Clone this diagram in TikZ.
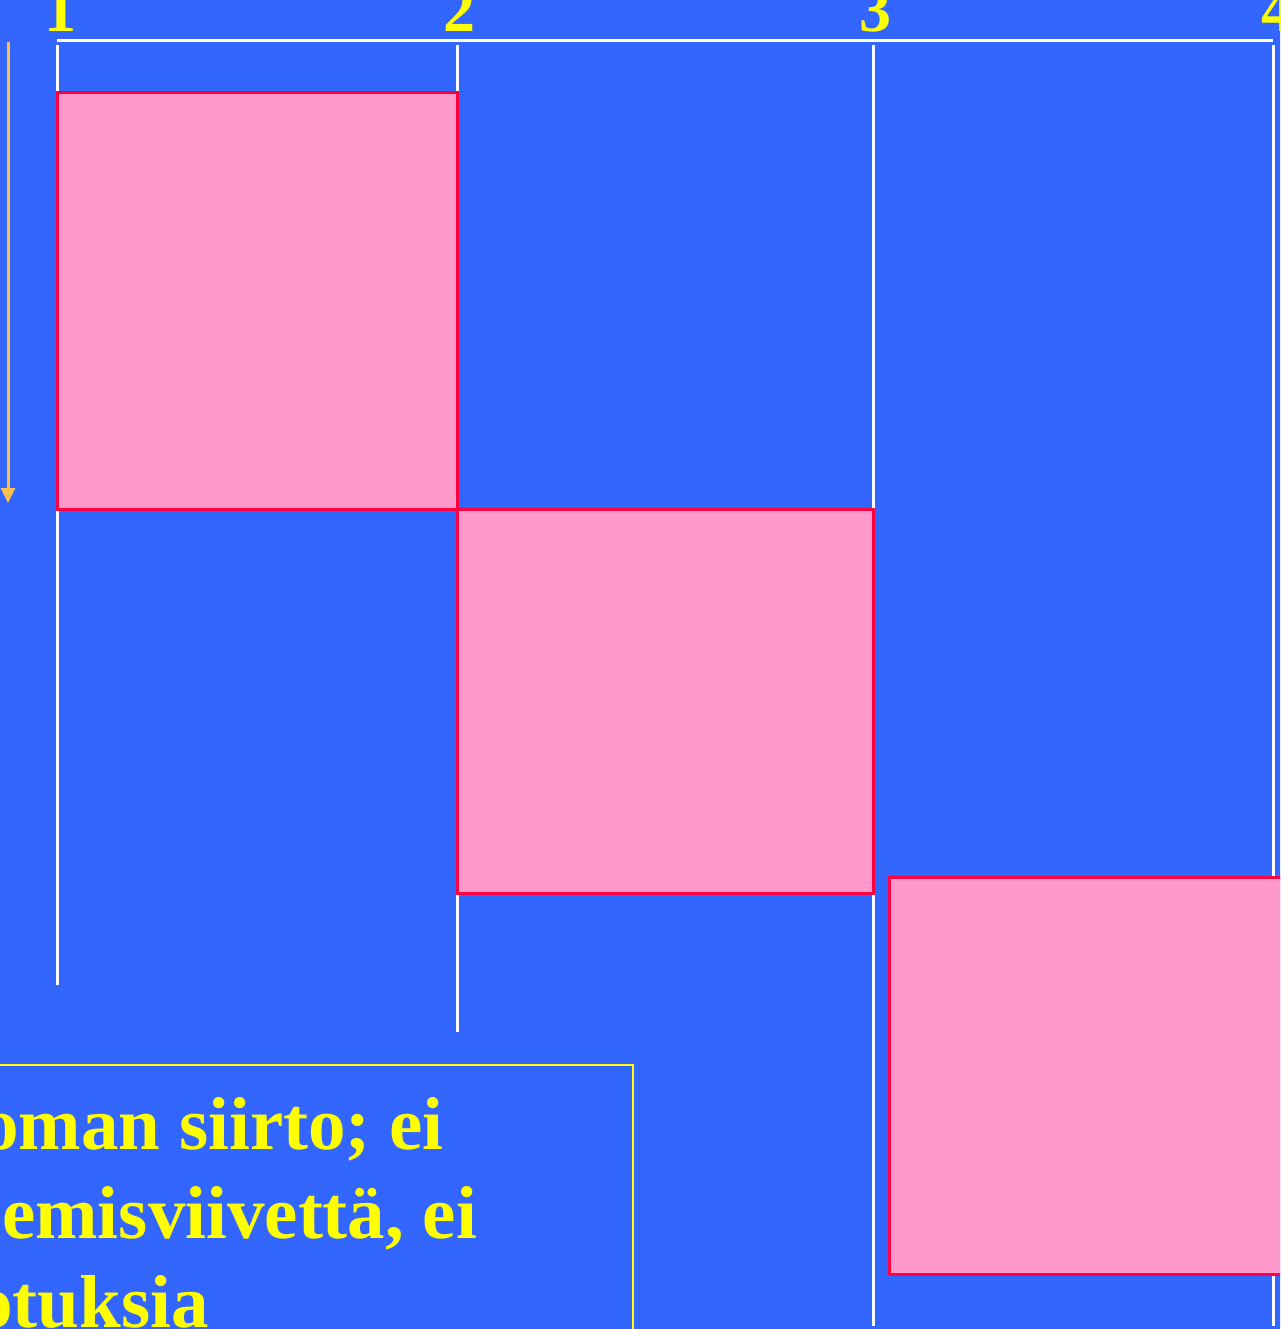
\documentclass[tikz,border=0pt]{standalone}
\usepackage{fontspec}
\setmainfont{Liberation Serif}
\usetikzlibrary{arrows.meta}
\definecolor{bg}{HTML}{3366FF}
\definecolor{pinkfill}{HTML}{FF99CC}
\definecolor{redline}{HTML}{FF0040}
\definecolor{txtyellow}{HTML}{FFFF00}
\definecolor{arroworange}{HTML}{FFC050}
\tikzset{
  gridline/.style={draw=white,line width=3pt},
  pinkbox/.style={draw=redline,fill=pinkfill,line width=3pt},
  digit/.style={text=txtyellow,font=\fontsize{64}{64}\selectfont\bfseries,inner sep=0pt,anchor=base},
  bodytext/.style={text=txtyellow,font=\fontsize{75}{89}\selectfont\bfseries,inner sep=0pt,anchor=base west},
  textframe/.style={draw=txtyellow,line width=2pt},
  timearrow/.style={draw=arroworange,line width=3pt,-{Triangle[width=14pt,length=15pt]}}
}
\begin{document}
\begin{tikzpicture}[x=1pt,y=-1pt]
\useasboundingbox (0,0) rectangle (1280,1329);
\clip (0,0) rectangle (1280,1329);
\fill[bg] (-5,-5) rectangle (1285,1334);
% top axis
\coordinate (h1) at (57,41);
\coordinate (h4) at (1273,41);
\draw[gridline] (h1) -- (h4);
% vertical lines
\coordinate (v1t) at (57,45); \coordinate (v1b) at (57,985);
\coordinate (v2t) at (457,45); \coordinate (v2b) at (457,1032);
\coordinate (v3t) at (873,45); \coordinate (v3b) at (873,1326);
\coordinate (v4t) at (1273,45); \coordinate (v4b) at (1273,1326);
\draw[gridline] (v1t) -- (v1b);
\draw[gridline] (v2t) -- (v2b);
\draw[gridline] (v3t) -- (v3b);
\draw[gridline] (v4t) -- (v4b);
% digits
\node[digit] (d1) at (60,32) {1};
\node[digit] (d2) at (459,32) {2};
\node[digit] (d3) at (875,32) {3};
\node[digit] (d4) at (1277,32) {4};
% time arrow
\coordinate (aS) at (8,42);
\coordinate (aE) at (8,503);
\draw[timearrow] (aS) -- (aE);
% pink boxes
\draw[pinkbox] (57,93) rectangle (457,509);
\draw[pinkbox] (457,509) rectangle (873,893);
\draw[pinkbox] (889,877) rectangle (1300,1274);
% text frame
\draw[textframe] (-10,1065) rectangle (633,1345);
\node[bodytext] (t1) at (-19,1149) {oman siirto; ei};
\node[bodytext] (t2) at (2,1238) {emisviivettä, ei};
\node[bodytext] (t3) at (-25,1327) {otuksia};
\end{tikzpicture}
\end{document}
